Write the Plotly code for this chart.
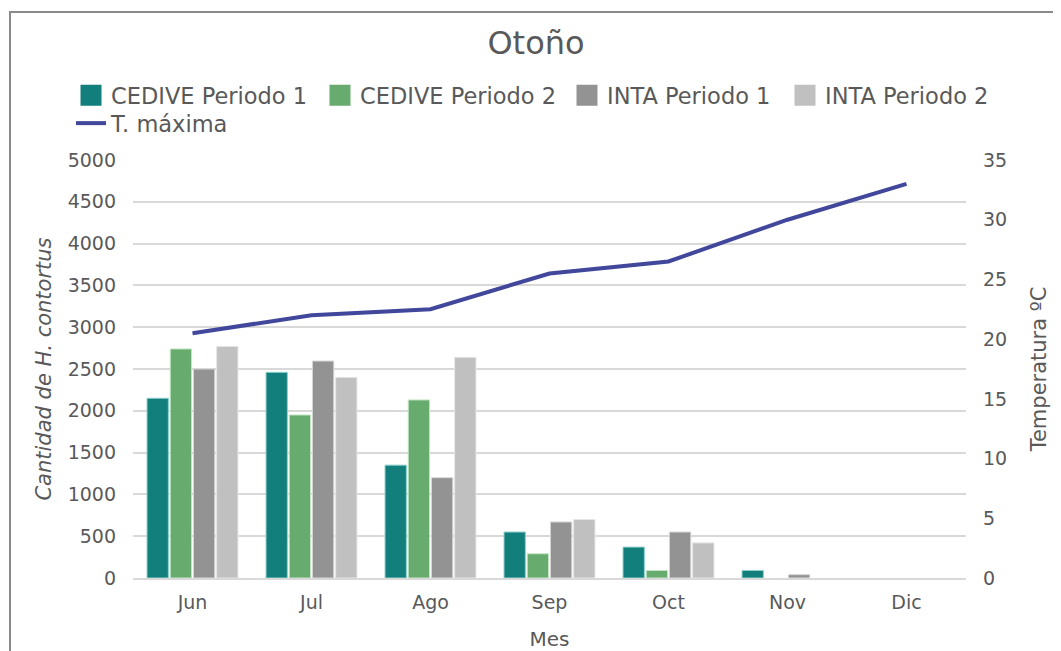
import plotly.graph_objects as go

months = ["Jun", "Jul", "Ago", "Sep", "Oct", "Nov", "Dic"]
cedive_p1 = [2150, 2460, 1350, 550, 370, 90, None]
cedive_p2 = [2740, 1950, 2130, 290, 90, None, None]
inta_p1 = [2500, 2595, 1200, 670, 550, 40, None]
inta_p2 = [2770, 2400, 2640, 700, 420, None, None]
t_max = [20.5, 22.0, 22.5, 25.5, 26.5, 30.0, 33.0]

series = [
    ("CEDIVE Periodo 1", cedive_p1, "#127F7C", "#8fd0cc"),
    ("CEDIVE Periodo 2", cedive_p2, "#68AB6E", "#c4e6c6"),
    ("INTA Periodo 1", inta_p1, "#939393", "#d6d6d6"),
    ("INTA Periodo 2", inta_p2, "#C0C0C0", "#e6e6e6"),
]
LINE_COLOR = "#41479B"

FONT = "DejaVu Sans"
TXT = "#595959"

# page body has an 8px margin; coordinates below are figure coordinates
W, H = 1053, 643
L, R, T, B = 125, 95, 152, 73
pw, ph = W - L - R, H - T - B

def px(fx):
    return (fx - L) / pw

def py(fy):
    return (H - B - fy) / ph

legend_names = ["legend", "legend2", "legend3", "legend4", "legend5"]
legend_pos = [(63, 66), (312, 66), (559, 66), (777, 66), (63, 94)]

fig = go.Figure()
for i, (name, vals, col, edge) in enumerate(series):
    fig.add_trace(go.Bar(x=months, y=vals, name=name, showlegend=False,
                         marker=dict(color=col, line=dict(color=edge, width=1))))
    # legend-only entry with a large square swatch
    fig.add_trace(go.Scatter(x=[None], y=[None], name=name, mode="markers",
                             legend=legend_names[i],
                             marker=dict(symbol="square", size=16, color=col,
                                         line=dict(color=col, width=5))))
fig.add_trace(go.Scatter(x=months, y=t_max, name="T. máxima", yaxis="y2",
                         legend="legend5",
                         mode="lines", line=dict(color=LINE_COLOR, width=4)))

layout_legends = {}
for nm, (lx, ly) in zip(legend_names, legend_pos):
    layout_legends[nm] = dict(x=px(lx), xanchor="left", y=py(ly), yanchor="top",
                              orientation="h", bgcolor="rgba(0,0,0,0)",
                              font=dict(size=22.5, color=TXT, family=FONT),
                              itemwidth=30)

fig.update_layout(
    width=W, height=H,
    margin=dict(l=L, r=R, t=T, b=B, autoexpand=False),
    paper_bgcolor="white", plot_bgcolor="white",
    font=dict(family=FONT, size=19, color=TXT),
    title=dict(text="Otoño", x=(536 - 8) / W, xanchor="center", y=1 - 35 / H, yanchor="middle",
               font=dict(size=32, color=TXT)),
    barmode="group", bargap=0.22, bargroupgap=0.08,
    xaxis=dict(title=dict(text="Mes", font=dict(size=20), standoff=20), automargin=False,
               showgrid=False, showline=True, linecolor="#d9d9d9", linewidth=2,
               ticks="", tickfont=dict(size=19), ticklabelstandoff=6),
    yaxis=dict(title=dict(text="<i>Cantidad de H. contortus</i>", font=dict(size=21), standoff=10),
               automargin=False,
               range=[0, 5000], dtick=500, showgrid=True, gridcolor="#d9d9d9", gridwidth=1.5,
               zeroline=False, tickfont=dict(size=19), ticks="", ticklabelstandoff=16),
    yaxis2=dict(title=dict(text="Temperatura ºC", font=dict(size=21), standoff=25),
                automargin=False,
                overlaying="y", side="right", range=[0, 35], dtick=5, showgrid=False,
                zeroline=False, tickfont=dict(size=19), ticklabelstandoff=16),
    shapes=[dict(type="rect", xref="paper", yref="paper",
                 x0=px(2), x1=px(1070), y0=py(670), y1=py(4),
                 line=dict(color="#8a8a8a", width=2), fillcolor="rgba(0,0,0,0)",
                 layer="below")],
    **layout_legends,
)

fig.write_html("out.html")
